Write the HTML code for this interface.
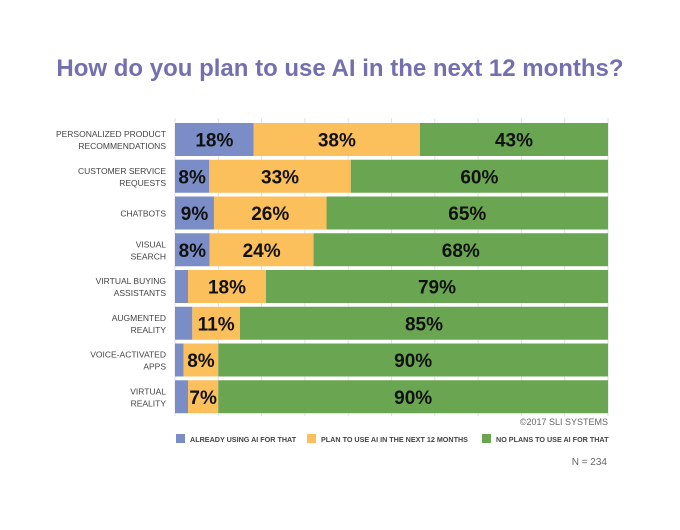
<!DOCTYPE html>
<html><head><meta charset="utf-8"><style>
body{margin:0;width:680px;height:525px;background:#fff;overflow:hidden;font-family:"Liberation Sans",sans-serif}
</style></head><body>
<svg id="chart" width="680" height="525" xmlns="http://www.w3.org/2000/svg">
<text x="340" y="76" text-anchor="middle" font-size="24" font-weight="bold" fill="#7470b0">How do you plan to use AI in the next 12 months?</text>
<g id="grid"></g><g id="bars"></g><g id="labels"></g>
<text x="608" y="425" text-anchor="end" font-size="9" fill="#666">©2017 SLI SYSTEMS</text>
<g id="legend"></g>
<text x="607" y="465" text-anchor="end" font-size="10" fill="#666">N = 234</text>
</svg>
<script>
const categories=[["PERSONALIZED PRODUCT","RECOMMENDATIONS"],["CUSTOMER SERVICE","REQUESTS"],["CHATBOTS"],["VISUAL","SEARCH"],["VIRTUAL BUYING","ASSISTANTS"],["AUGMENTED","REALITY"],["VOICE-ACTIVATED","APPS"],["VIRTUAL","REALITY"]];
const already=[18,8,9,8,3,4,2,3];
const plan=[38,33,26,24,18,11,8,7];
const noPlans=[43,60,65,68,79,85,90,90];
const showAlreadyLabel=[true,true,true,true,false,false,false,false];
const seriesNames=["ALREADY USING AI FOR THAT","PLAN TO USE AI IN THE NEXT 12 MONTHS","NO PLANS TO USE AI FOR THAT"];
const colors=["#7b8dc6","#fbbf5c","#6aa551"];
const NS="http://www.w3.org/2000/svg";
const x0=175,x1=608,topY=121,pitch=36.75,bh=33;
const xs=p=>x0+(x1-x0)*p/100;
const ys=i=>topY+2+i*pitch;
function mk(t,a,p){const e=document.createElementNS(NS,t);for(const k in a)e.setAttribute(k,a[k]);p.appendChild(e);return e;}
const grid=document.getElementById('grid');
for(let t=0;t<=100;t+=10){const l=mk('line',{x1:xs(t),x2:xs(t),y1:topY-3,y2:ys(categories.length-1)+bh+3,stroke:'#dde0e8','stroke-width':1},grid);

}
const bars=document.getElementById('bars'),labels=document.getElementById('labels');
categories.forEach((c,i)=>{
 const vals=[already[i],plan[i],noPlans[i]];const tot=vals.reduce((a,b)=>a+b,0);
 let acc=0;const y=ys(i);
 vals.forEach((v,s)=>{
  const p0=acc/tot*100,p1=(acc+v)/tot*100;acc+=v;
  const r=mk('rect',{x:xs(p0),y:y,width:xs(p1)-xs(p0),height:bh,fill:colors[s]},bars);
  
  
  if(s>0||showAlreadyLabel[i]){
   const t=mk('text',{x:(xs(p0)+xs(p1))/2,y:y+bh/2+7,'text-anchor':'middle','font-size':19,'font-weight':'bold',fill:'#111'},labels);
   t.textContent=v+'%';
   
   
  }
 });
 const n=c.length;
 c.forEach((line,k)=>{
  const t=mk('text',{x:166,y:y+bh/2+3.5+(k-(n-1)/2)*12,'text-anchor':'end','font-size':8.5,fill:'#444'},labels);
  t.textContent=line;
  
  
 });
});
const lg=document.getElementById('legend');
const lx=[176,307,482];
seriesNames.forEach((n,s)=>{
 const r=mk('rect',{x:lx[s],y:434,width:9,height:9,fill:colors[s]},lg);
 
 
 const t=mk('text',{x:lx[s]+14,y:442,'font-size':7.2,'font-weight':'bold',fill:'#444'},lg);
 t.textContent=n;
 
 
});
</script>
</body></html>
